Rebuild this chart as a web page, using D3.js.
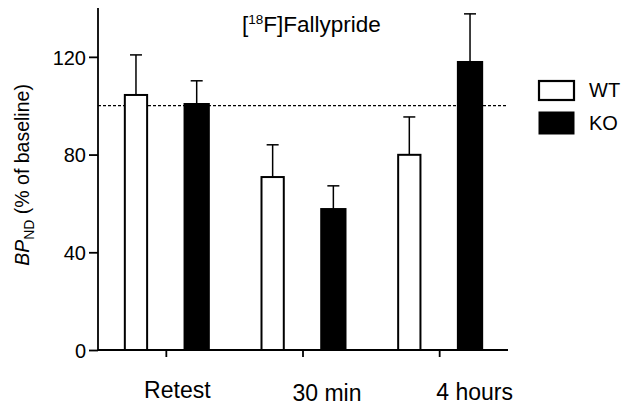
<!DOCTYPE html>
<html><head><meta charset="utf-8">
<script src="https://cdn.jsdelivr.net/npm/d3@7"></script>
<style>body{margin:0;background:#fff}svg{display:block}text{font-family:Arial,"Liberation Sans",sans-serif;fill:#000}</style>
</head><body><svg id="c" width="627" height="408"></svg>
<script>
const categories = ["Retest", "30 min", "4 hours"];
const series = ["WT", "KO"];
const wtMean = [104.4, 70.8, 79.9];
const wtErr = [120.8, 84.0, 95.4];
const koMean = [100.7, 57.7, 117.9];
const koErr = [110.2, 67.2, 137.6];
const yTicks = [0, 40, 80, 120];
const baseline = 100;

(function () {
const svg = d3.select("#c");
const FF = "Arial, 'Liberation Sans', sans-serif";
const mL = 98, mR = 508, mT = 8, mB = 350;
const x = d3.scaleBand().domain(categories).range([mL, mR]).padding(0);
const y = d3.scaleLinear().domain([0, 140]).range([mB, mT]);
const sub = d3.scaleBand().domain(series).range([-42.5, 42.5]).paddingInner(0.6);
const bw = sub.bandwidth();

// dashed baseline
svg.append("line").attr("x1", mL).attr("x2", mR)
  .attr("y1", y(baseline)).attr("y2", y(baseline))
  .attr("stroke", "#000").attr("stroke-width", 1.2).attr("stroke-dasharray", "3,2");

const data = [];
categories.forEach((c, i) => {
  data.push({c, s: "WT", v: wtMean[i], e: wtErr[i]});
  data.push({c, s: "KO", v: koMean[i], e: koErr[i]});
});
const cx = d => x(d.c) + x.bandwidth() / 2 + sub(d.s);

// error bars
const eg = svg.append("g").attr("stroke", "#000").attr("stroke-width", 1.5);
data.forEach(d => {
  const m = cx(d) + bw / 2;
  eg.append("line").attr("x1", m).attr("x2", m).attr("y1", y(d.v)).attr("y2", y(d.e));
  eg.append("line").attr("x1", m - 6).attr("x2", m + 6).attr("y1", y(d.e)).attr("y2", y(d.e));
});

// bars
svg.append("g").selectAll("rect").data(data).join("rect")
  .attr("x", d => cx(d) + (d.s === "WT" ? 1 : 0))
  .attr("y", d => y(d.v))
  .attr("width", d => bw - (d.s === "WT" ? 2 : 0))
  .attr("height", d => y(0) - y(d.v))
  .attr("fill", d => d.s === "WT" ? "#fff" : "#000")
  .attr("stroke", "#000").attr("stroke-width", 2);

// axes
const ya = svg.append("g").attr("transform", `translate(${mL},0)`)
  .call(d3.axisLeft(y).tickValues(yTicks).tickSize(9).tickPadding(3));
ya.select(".domain").attr("d", `M0,${mT}V${mB}`).attr("stroke-width", 1.8);
ya.selectAll(".tick line").attr("stroke-width", 1.8);
ya.selectAll(".tick text").attr("font-size", 20).attr("font-family", FF).attr("dy", "0.36em");

const xa = svg.append("g").attr("transform", `translate(0,${mB})`)
  .call(d3.axisBottom(x).tickSize(7).tickSizeOuter(0).tickPadding(0));
xa.select(".domain").attr("d", `M${mL},0H${mR}`).attr("stroke-width", 1.8);
xa.selectAll(".tick line").attr("stroke-width", 1.8);
const labelShift = [11, 24, 35];
const labelDrop = [48, 51, 50];
xa.selectAll(".tick text").attr("font-size", 23).attr("font-family", FF)
  .attr("y", (d, i) => labelDrop[i]).attr("dy", 0)
  .attr("dx", (d, i) => labelShift[i]);

// title
const t = svg.append("text").attr("x", 242).attr("y", 32).attr("font-size", 22.5);
t.append("tspan").text("[");
t.append("tspan").attr("font-size", 13.5).attr("dy", -8).text("18");
t.append("tspan").attr("dy", 8).text("F]Fallypride");

// y label
const yl = svg.append("text").attr("transform", "translate(29,175) rotate(-90)")
  .attr("text-anchor", "middle").attr("font-size", 19.5);
yl.append("tspan").attr("font-style", "italic").text("BP");
yl.append("tspan").attr("font-size", 14).attr("dy", 5).text("ND");
yl.append("tspan").attr("dy", -5).text(" (% of baseline)");

// legend
const lg = svg.append("g");
const boxY = [81, 112], boxH = [19, 22];
series.forEach((s, i) => {
  lg.append("rect").attr("x", 539).attr("y", boxY[i]).attr("width", 35).attr("height", boxH[i])
    .attr("fill", s === "WT" ? "#fff" : "#000").attr("stroke", "#000").attr("stroke-width", s === "WT" ? 2.2 : 1);
  lg.append("text").attr("x", 589).attr("y", [97, 130][i]).attr("font-size", 20).text(s);
});
})();
</script></body></html>
